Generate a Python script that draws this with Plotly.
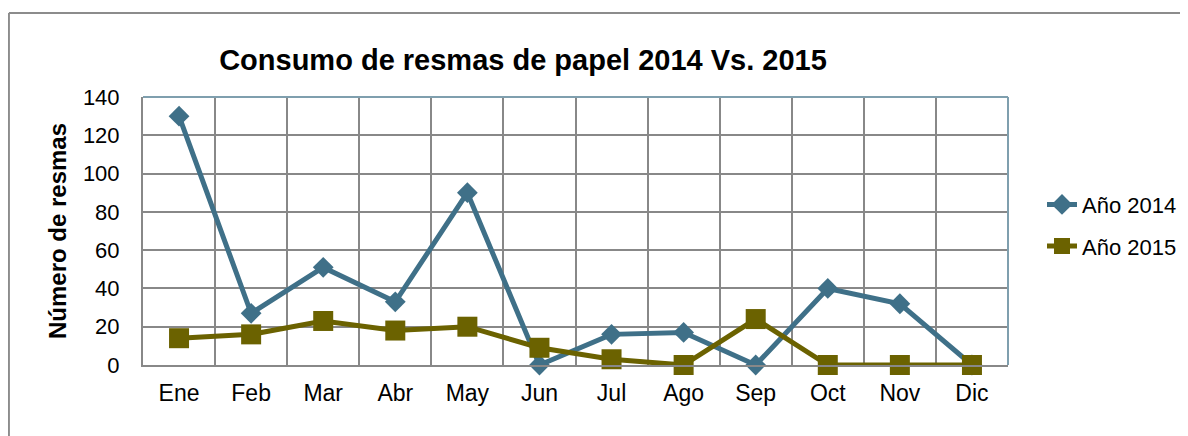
import plotly.graph_objects as go

# Datos del gráfico
meses = ["Ene", "Feb", "Mar", "Abr", "May", "Jun", "Jul", "Ago", "Sep", "Oct", "Nov", "Dic"]
resmas_2014 = [130, 27, 51, 33, 90, 0, 16, 17, 0, 40, 32, 0]
resmas_2015 = [14, 16, 23, 18, 20, 9, 3, 0, 24, 0, 0, 0]

COLOR_2014 = "#3F7088"
COLOR_2015 = "#6B6200"
GRID = "#888888"
BORDE = "#7F9FAE"
FUENTE = "Liberation Sans, Arial, sans-serif"

# el navegador deja 8px de margen en el body, la figura se ajusta a eso
ANCHO, ALTO = 1180, 428

fig = go.Figure()

fig.add_trace(go.Scatter(
    x=meses, y=resmas_2014, name="Año 2014", mode="lines+markers",
    line=dict(color=COLOR_2014, width=5),
    marker=dict(symbol="diamond", size=16, color=COLOR_2014),
    legendgroup="a", cliponaxis=False,
))
fig.add_trace(go.Scatter(
    x=meses, y=resmas_2015, name="Año 2015", mode="lines+markers",
    line=dict(color=COLOR_2015, width=5),
    marker=dict(symbol="square", size=20, color=COLOR_2015),
    legendgroup="b", cliponaxis=False,
))

fig.update_layout(
    width=ANCHO, height=ALTO,
    margin=dict(l=135, r=180, t=89, b=71, autoexpand=False),
    paper_bgcolor="white", plot_bgcolor="white",
    font=dict(family=FUENTE, size=23, color="black"),
    title=dict(
        text="<b>Consumo de resmas de papel 2014 Vs. 2015</b>",
        font=dict(size=29, color="black"),
        x=515 / ANCHO, xanchor="center",
        y=1 - 52 / ALTO, yanchor="middle",
    ),
    showlegend=True,
    legend=dict(
        xref="container", x=1034 / ANCHO, xanchor="left",
        y=0.52, yanchor="middle",
        font=dict(size=22), traceorder="grouped", tracegroupgap=10,
        bgcolor="rgba(0,0,0,0)",
    ),
    xaxis=dict(
        type="category", tickson="boundaries", range=[-0.5, 11.5],
        showgrid=True, gridcolor=GRID, gridwidth=2, ticks="", showline=True,
        linecolor=GRID, linewidth=2, ticklabelstandoff=6, automargin=False,
        tickfont=dict(size=23),
    ),
    yaxis=dict(
        range=[0, 140], dtick=20, showgrid=True, gridcolor=GRID,
        gridwidth=2, ticks="", showline=True, linecolor=GRID, linewidth=2,
        zeroline=False, ticklabelstandoff=17, automargin=False,
        tickfont=dict(size=22),
        title=dict(text="<b>Número de resmas</b>", font=dict(size=24), standoff=9),
    ),
    shapes=[
        # borde superior y derecho del área de trazado
        dict(type="line", xref="paper", yref="paper", x0=0, x1=1, y0=1, y1=1,
             line=dict(color=BORDE, width=2), layer="above"),
        dict(type="line", xref="paper", yref="paper", x0=1, x1=1, y0=0, y1=1,
             line=dict(color=BORDE, width=2), layer="above"),
        # marco exterior del gráfico
        dict(type="line", xref="paper", yref="paper", x0=-0.155, x1=1.21,
             y0=1.313, y1=1.313, line=dict(color="#8C8C8C", width=2)),
        dict(type="line", xref="paper", yref="paper", x0=-0.155, x1=-0.155,
             y0=1.313, y1=-0.27, line=dict(color="#8C8C8C", width=2)),
    ],
)

fig.write_html("out.html")
